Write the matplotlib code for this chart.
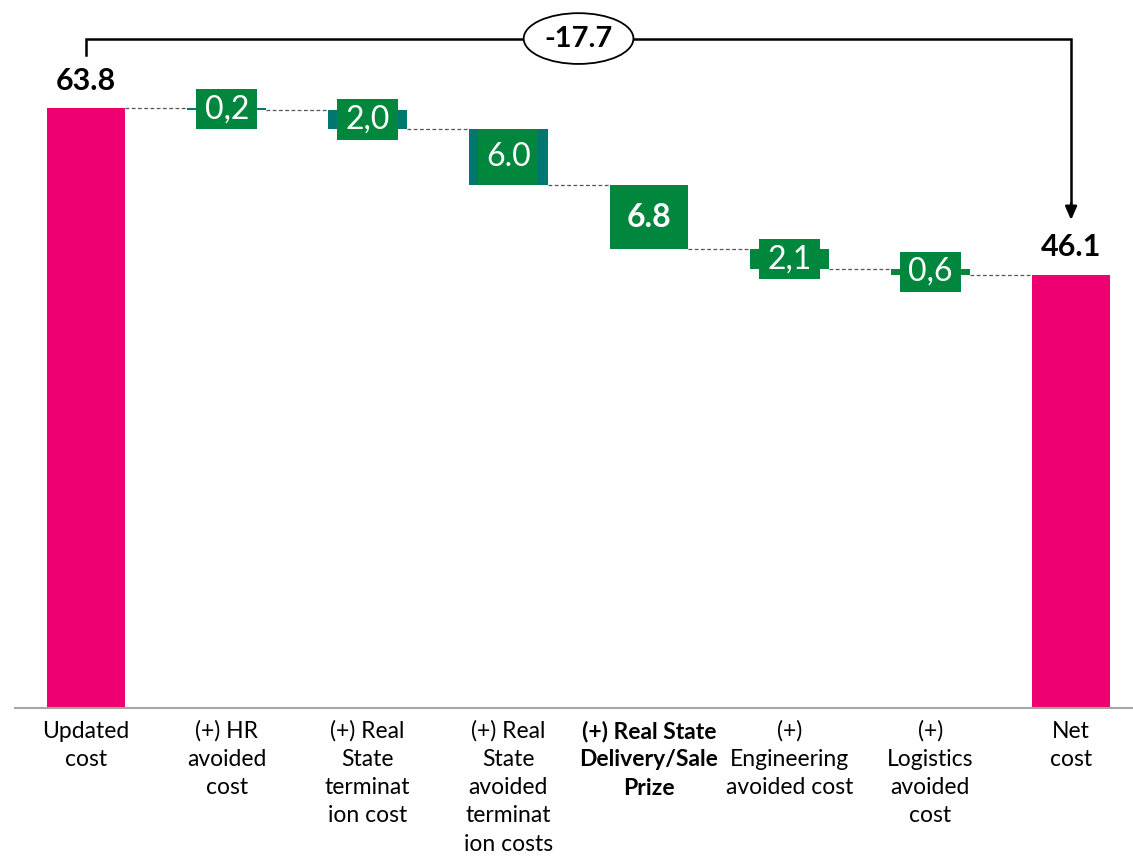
import matplotlib
matplotlib.use("Agg")
import matplotlib.pyplot as plt
from matplotlib.patches import Rectangle, Ellipse

plt.rcParams['font.family'] = ['Lato', 'DejaVu Sans']

categories = ["Updated\ncost", "(+) HR\navoided\ncost", "(+) Real\nState\nterminat\nion cost",
              "(+) Real\nState\navoided\nterminat\nion costs", "(+) Real State\nDelivery/Sale\nPrize",
              "(+)\nEngineering\navoided cost", "(+)\nLogistics\navoided\ncost", "Net\ncost"]
start_value = 63.8
steps = [0.2, 2.0, 6.0, 6.8, 2.1, 0.6]
step_labels = ["0,2", "2,0", "6.0", "6.8", "2,1", "0,6"]
end_value = 46.1
total_change = "-17.7"

PINK = "#EE0070"
TEAL = "#00786F"
GREEN = "#00873D"
step_colors = [TEAL, TEAL, TEAL, GREEN, GREEN, GREEN]
bold_cats = {4}

W = 0.56
BOX_W = 0.43
BOX_MIN_H = 4.3

fig = plt.figure(figsize=(11.33, 8.58), dpi=100)
ax = fig.add_axes([0.0132, 0.1748, 0.9868, 0.8252])
ax.set_xlim(-0.505, 7.44)
ax.set_ylim(0, 75.3)

# start / end totals
ax.bar([0, 7], [start_value, end_value], width=W, color=PINK, zorder=2)
ax.text(0, start_value + 1.4, f"{start_value}", ha="center", va="bottom",
        fontsize=22, fontweight="bold")
ax.text(7, end_value + 1.4, f"{end_value}", ha="center", va="bottom",
        fontsize=22, fontweight="bold")

# floating steps
level = start_value
for i, (v, lab, col) in enumerate(zip(steps, step_labels, step_colors), start=1):
    bottom = level - v
    ax.bar(i, v, bottom=bottom, width=W, color=col, zorder=2)
    mid = bottom + v / 2
    h = max(v, BOX_MIN_H)
    ax.add_patch(Rectangle((i - BOX_W / 2, mid - h / 2), BOX_W, h,
                           facecolor=GREEN, edgecolor="none", zorder=3))
    ax.text(i, mid, lab, ha="center", va="center", color="white", fontsize=23,
            fontweight="bold" if i in bold_cats else "normal", zorder=4)
    # connector from previous bar
    ax.plot([i - 1 + W / 2, i - W / 2], [level, level], ls=(0, (3, 2)),
            color="#555555", lw=0.9, zorder=1)
    level = bottom
ax.plot([6 + W / 2, 7 - W / 2], [level, level], ls=(0, (3, 2)),
        color="#555555", lw=0.9, zorder=1)

# total change bracket
top_y = start_value + 7.4
ax.plot([0, 0, 7, 7], [start_value + 5.6, top_y, top_y, end_value + 7.5],
        color="black", lw=1.8, solid_joinstyle="miter", zorder=2)
ax.annotate("", xy=(7, end_value + 5.8), xytext=(7, end_value + 7.6),
            arrowprops=dict(arrowstyle="-|>,head_width=0.35,head_length=0.8",
                            color="black", lw=1.8, shrinkA=0, shrinkB=0))
ax.add_patch(Ellipse((3.5, top_y), 0.78, 5.4, facecolor="white",
                     edgecolor="black", lw=1.3, zorder=3))
ax.text(3.5, top_y, total_change, ha="center", va="center", fontsize=21,
        fontweight="bold", zorder=4)

for s in ["top", "left", "right"]:
    ax.spines[s].set_visible(False)
ax.spines["bottom"].set_color("#A6A6A6")
ax.spines["bottom"].set_linewidth(1.5)
ax.set_yticks([])
ax.set_xticks(range(len(categories)))
ax.set_xticklabels(categories, fontsize=16.5, linespacing=1.42, va="top")
ax.tick_params(axis="x", length=0, pad=9)
for i, t in enumerate(ax.get_xticklabels()):
    if i in bold_cats:
        t.set_fontweight("bold")

fig.savefig("out.png", dpi=100)
